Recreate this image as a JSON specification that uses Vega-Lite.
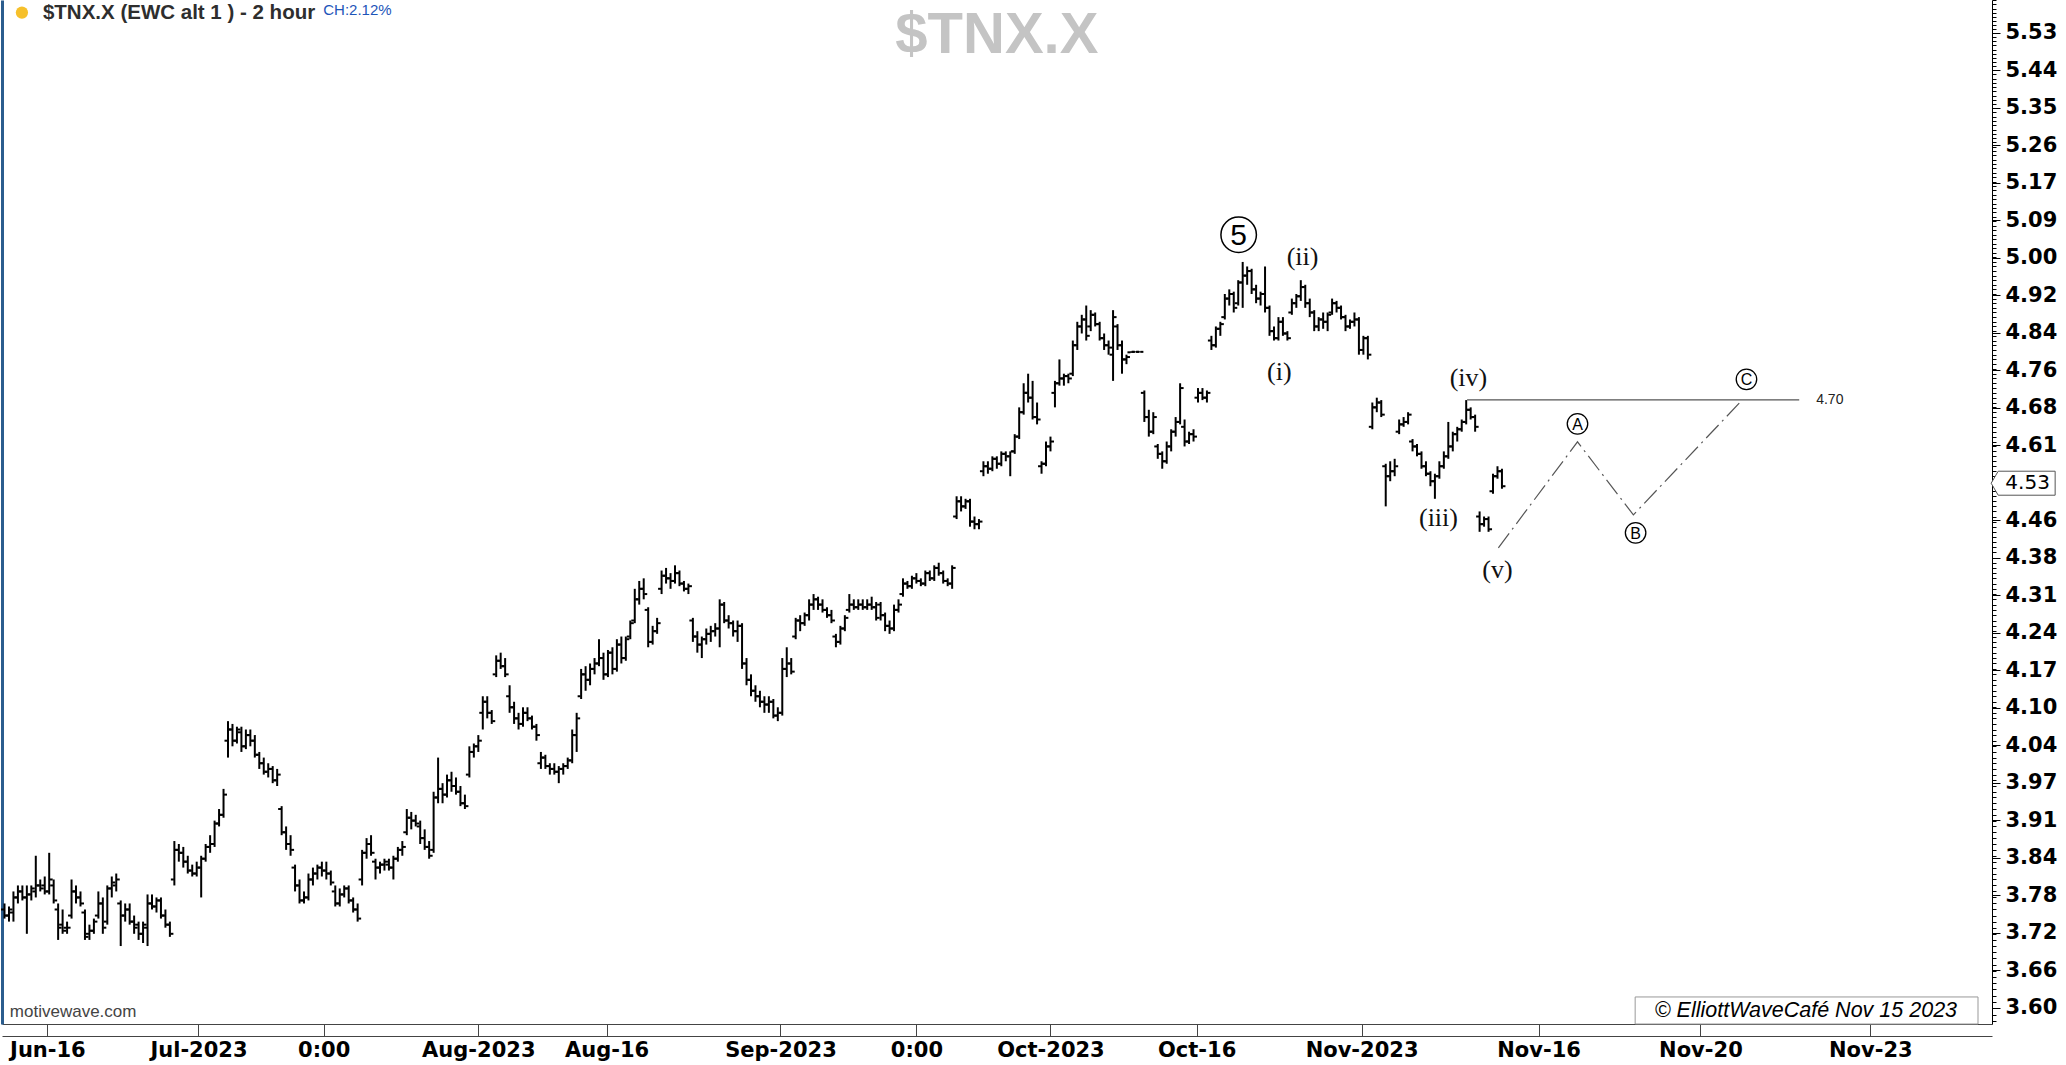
{
  "$schema": "https://vega.github.io/schema/vega-lite/v6.json",
  "width": 1990,
  "height": 1024,
  "autosize": {"type": "none"},
  "padding": {"left": 2, "top": 0, "right": 74, "bottom": 41},
  "background": "white",
  "config": {"view": {"stroke": null}, "axis": {"grid": false}},
  "datasets": {
    "bars": [
      {"i":0,"o":3.76,"h":3.77,"l":3.745,"c":3.75},{"i":1,"o":3.75,"h":3.765,"l":3.74,"c":3.76},{"i":2,"o":3.755,"h":3.79,"l":3.74,"c":3.78},{"i":3,"o":3.78,"h":3.8,"l":3.77,"c":3.79},{"i":4,"o":3.79,"h":3.8,"l":3.775,"c":3.78},{"i":5,"o":3.78,"h":3.8,"l":3.72,"c":3.785},{"i":6,"o":3.785,"h":3.8,"l":3.775,"c":3.795},{"i":7,"o":3.79,"h":3.85,"l":3.78,"c":3.8},{"i":8,"o":3.8,"h":3.81,"l":3.79,"c":3.795},{"i":9,"o":3.8,"h":3.815,"l":3.785,"c":3.79},
      {"i":10,"o":3.79,"h":3.855,"l":3.785,"c":3.81},{"i":11,"o":3.8,"h":3.81,"l":3.77,"c":3.775},{"i":12,"o":3.76,"h":3.77,"l":3.71,"c":3.73},{"i":13,"o":3.735,"h":3.76,"l":3.72,"c":3.725},{"i":14,"o":3.73,"h":3.74,"l":3.72,"c":3.73},{"i":15,"o":3.75,"h":3.81,"l":3.745,"c":3.79},{"i":16,"o":3.79,"h":3.8,"l":3.77,"c":3.78},{"i":17,"o":3.78,"h":3.79,"l":3.765,"c":3.77},{"i":18,"o":3.755,"h":3.76,"l":3.71,"c":3.715},{"i":19,"o":3.72,"h":3.735,"l":3.71,"c":3.725},
      {"i":20,"o":3.725,"h":3.745,"l":3.72,"c":3.74},{"i":21,"o":3.75,"h":3.79,"l":3.745,"c":3.77},{"i":22,"o":3.77,"h":3.78,"l":3.72,"c":3.73},{"i":23,"o":3.74,"h":3.8,"l":3.735,"c":3.795},{"i":24,"o":3.795,"h":3.815,"l":3.78,"c":3.805},{"i":25,"o":3.8,"h":3.82,"l":3.79,"c":3.81},{"i":26,"o":3.77,"h":3.775,"l":3.7,"c":3.75},{"i":27,"o":3.75,"h":3.77,"l":3.74,"c":3.76},{"i":28,"o":3.76,"h":3.77,"l":3.735,"c":3.74},{"i":29,"o":3.74,"h":3.75,"l":3.72,"c":3.73},
      {"i":30,"o":3.735,"h":3.74,"l":3.71,"c":3.72},{"i":31,"o":3.72,"h":3.74,"l":3.705,"c":3.735},{"i":32,"o":3.73,"h":3.785,"l":3.7,"c":3.77},{"i":33,"o":3.77,"h":3.785,"l":3.76,"c":3.765},{"i":34,"o":3.765,"h":3.78,"l":3.755,"c":3.775},{"i":35,"o":3.775,"h":3.78,"l":3.745,"c":3.75},{"i":36,"o":3.75,"h":3.76,"l":3.73,"c":3.735},{"i":37,"o":3.735,"h":3.74,"l":3.715,"c":3.72},{"i":38,"o":3.81,"h":3.875,"l":3.8,"c":3.86},{"i":39,"o":3.86,"h":3.87,"l":3.84,"c":3.855},
      {"i":40,"o":3.855,"h":3.865,"l":3.83,"c":3.84},{"i":41,"o":3.84,"h":3.85,"l":3.82,"c":3.825},{"i":42,"o":3.825,"h":3.835,"l":3.815,"c":3.82},{"i":43,"o":3.82,"h":3.84,"l":3.815,"c":3.83},{"i":44,"o":3.83,"h":3.85,"l":3.78,"c":3.845},{"i":45,"o":3.845,"h":3.87,"l":3.84,"c":3.865},{"i":46,"o":3.865,"h":3.885,"l":3.855,"c":3.87},{"i":47,"o":3.87,"h":3.91,"l":3.865,"c":3.905},{"i":48,"o":3.905,"h":3.93,"l":3.9,"c":3.92},{"i":49,"o":3.92,"h":3.965,"l":3.915,"c":3.955},
      {"i":50,"o":4.05,"h":4.085,"l":4.02,"c":4.07},{"i":51,"o":4.07,"h":4.08,"l":4.04,"c":4.05},{"i":52,"o":4.05,"h":4.075,"l":4.045,"c":4.07},{"i":53,"o":4.065,"h":4.075,"l":4.03,"c":4.04},{"i":54,"o":4.04,"h":4.07,"l":4.035,"c":4.06},{"i":55,"o":4.06,"h":4.07,"l":4.04,"c":4.05},{"i":56,"o":4.05,"h":4.06,"l":4.02,"c":4.025},{"i":57,"o":4.025,"h":4.03,"l":4.0,"c":4.01},{"i":58,"o":4.01,"h":4.02,"l":3.99,"c":3.995},{"i":59,"o":3.995,"h":4.01,"l":3.985,"c":4.0},
      {"i":60,"o":4.0,"h":4.005,"l":3.975,"c":3.98},{"i":61,"o":3.98,"h":4.0,"l":3.97,"c":3.99},{"i":62,"o":3.93,"h":3.935,"l":3.885,"c":3.89},{"i":63,"o":3.89,"h":3.9,"l":3.86,"c":3.87},{"i":64,"o":3.87,"h":3.885,"l":3.85,"c":3.86},{"i":65,"o":3.83,"h":3.835,"l":3.79,"c":3.8},{"i":66,"o":3.8,"h":3.81,"l":3.77,"c":3.775},{"i":67,"o":3.775,"h":3.79,"l":3.77,"c":3.78},{"i":68,"o":3.78,"h":3.82,"l":3.775,"c":3.81},{"i":69,"o":3.81,"h":3.83,"l":3.8,"c":3.82},
      {"i":70,"o":3.82,"h":3.835,"l":3.81,"c":3.83},{"i":71,"o":3.83,"h":3.84,"l":3.815,"c":3.825},{"i":72,"o":3.825,"h":3.84,"l":3.81,"c":3.82},{"i":73,"o":3.82,"h":3.825,"l":3.8,"c":3.805},{"i":74,"o":3.79,"h":3.8,"l":3.765,"c":3.77},{"i":75,"o":3.77,"h":3.795,"l":3.765,"c":3.785},{"i":76,"o":3.785,"h":3.8,"l":3.78,"c":3.795},{"i":77,"o":3.795,"h":3.8,"l":3.77,"c":3.775},{"i":78,"o":3.775,"h":3.78,"l":3.755,"c":3.76},{"i":79,"o":3.76,"h":3.77,"l":3.74,"c":3.745},
      {"i":80,"o":3.81,"h":3.86,"l":3.8,"c":3.855},{"i":81,"o":3.855,"h":3.88,"l":3.845,"c":3.87},{"i":82,"o":3.87,"h":3.885,"l":3.85,"c":3.855},{"i":83,"o":3.84,"h":3.845,"l":3.81,"c":3.83},{"i":84,"o":3.83,"h":3.84,"l":3.82,"c":3.835},{"i":85,"o":3.835,"h":3.845,"l":3.825,"c":3.84},{"i":86,"o":3.835,"h":3.845,"l":3.825,"c":3.83},{"i":87,"o":3.83,"h":3.85,"l":3.81,"c":3.845},{"i":88,"o":3.845,"h":3.865,"l":3.84,"c":3.86},{"i":89,"o":3.86,"h":3.875,"l":3.85,"c":3.865},
      {"i":90,"o":3.89,"h":3.93,"l":3.885,"c":3.915},{"i":91,"o":3.915,"h":3.925,"l":3.895,"c":3.91},{"i":92,"o":3.91,"h":3.92,"l":3.9,"c":3.905},{"i":93,"o":3.9,"h":3.91,"l":3.87,"c":3.88},{"i":94,"o":3.88,"h":3.895,"l":3.86,"c":3.865},{"i":95,"o":3.865,"h":3.875,"l":3.845,"c":3.85},{"i":96,"o":3.86,"h":3.96,"l":3.855,"c":3.95},{"i":97,"o":3.95,"h":4.02,"l":3.94,"c":3.965},{"i":98,"o":3.965,"h":3.975,"l":3.94,"c":3.955},{"i":99,"o":3.955,"h":3.99,"l":3.95,"c":3.98},
      {"i":100,"o":3.98,"h":3.995,"l":3.96,"c":3.97},{"i":101,"o":3.97,"h":3.985,"l":3.955,"c":3.96},{"i":102,"o":3.96,"h":3.97,"l":3.935,"c":3.94},{"i":103,"o":3.94,"h":3.955,"l":3.93,"c":3.935},{"i":104,"o":3.99,"h":4.04,"l":3.985,"c":4.03},{"i":105,"o":4.03,"h":4.045,"l":4.02,"c":4.04},{"i":106,"o":4.04,"h":4.06,"l":4.03,"c":4.05},{"i":107,"o":4.1,"h":4.13,"l":4.07,"c":4.12},{"i":108,"o":4.12,"h":4.13,"l":4.09,"c":4.1},{"i":109,"o":4.1,"h":4.105,"l":4.08,"c":4.085},
      {"i":110,"o":4.17,"h":4.205,"l":4.165,"c":4.195},{"i":111,"o":4.195,"h":4.21,"l":4.18,"c":4.185},{"i":112,"o":4.185,"h":4.2,"l":4.165,"c":4.17},{"i":113,"o":4.13,"h":4.15,"l":4.1,"c":4.11},{"i":114,"o":4.11,"h":4.12,"l":4.08,"c":4.09},{"i":115,"o":4.09,"h":4.1,"l":4.07,"c":4.08},{"i":116,"o":4.08,"h":4.11,"l":4.075,"c":4.1},{"i":117,"o":4.1,"h":4.11,"l":4.085,"c":4.09},{"i":118,"o":4.09,"h":4.095,"l":4.07,"c":4.075},{"i":119,"o":4.075,"h":4.08,"l":4.05,"c":4.06},
      {"i":120,"o":4.01,"h":4.03,"l":4.0,"c":4.02},{"i":121,"o":4.02,"h":4.025,"l":4.0,"c":4.005},{"i":122,"o":4.005,"h":4.01,"l":3.99,"c":4.0},{"i":123,"o":4.0,"h":4.01,"l":3.99,"c":3.995},{"i":124,"o":3.995,"h":4.005,"l":3.975,"c":4.0},{"i":125,"o":4.0,"h":4.01,"l":3.99,"c":4.005},{"i":126,"o":4.005,"h":4.02,"l":4.0,"c":4.015},{"i":127,"o":4.015,"h":4.07,"l":4.01,"c":4.06},{"i":128,"o":4.06,"h":4.1,"l":4.03,"c":4.09},{"i":129,"o":4.13,"h":4.18,"l":4.125,"c":4.17},
      {"i":130,"o":4.17,"h":4.185,"l":4.14,"c":4.16},{"i":131,"o":4.16,"h":4.19,"l":4.15,"c":4.18},{"i":132,"o":4.18,"h":4.2,"l":4.17,"c":4.19},{"i":133,"o":4.19,"h":4.235,"l":4.185,"c":4.2},{"i":134,"o":4.2,"h":4.21,"l":4.16,"c":4.17},{"i":135,"o":4.17,"h":4.215,"l":4.165,"c":4.21},{"i":136,"o":4.21,"h":4.22,"l":4.17,"c":4.18},{"i":137,"o":4.18,"h":4.235,"l":4.175,"c":4.225},{"i":138,"o":4.225,"h":4.24,"l":4.19,"c":4.2},{"i":139,"o":4.2,"h":4.24,"l":4.195,"c":4.235},
      {"i":140,"o":4.24,"h":4.27,"l":4.235,"c":4.265},{"i":141,"o":4.27,"h":4.33,"l":4.265,"c":4.31},{"i":142,"o":4.31,"h":4.345,"l":4.3,"c":4.33},{"i":143,"o":4.33,"h":4.35,"l":4.31,"c":4.32},{"i":144,"o":4.29,"h":4.295,"l":4.22,"c":4.23},{"i":145,"o":4.23,"h":4.26,"l":4.225,"c":4.25},{"i":146,"o":4.25,"h":4.275,"l":4.245,"c":4.265},{"i":147,"o":4.33,"h":4.365,"l":4.32,"c":4.355},{"i":148,"o":4.355,"h":4.37,"l":4.34,"c":4.35},{"i":149,"o":4.35,"h":4.36,"l":4.33,"c":4.345},
      {"i":150,"o":4.345,"h":4.375,"l":4.34,"c":4.36},{"i":151,"o":4.36,"h":4.365,"l":4.335,"c":4.34},{"i":152,"o":4.34,"h":4.345,"l":4.325,"c":4.33},{"i":153,"o":4.33,"h":4.34,"l":4.32,"c":4.335},{"i":154,"o":4.27,"h":4.275,"l":4.23,"c":4.24},{"i":155,"o":4.24,"h":4.25,"l":4.21,"c":4.225},{"i":156,"o":4.225,"h":4.24,"l":4.2,"c":4.235},{"i":157,"o":4.235,"h":4.255,"l":4.225,"c":4.245},{"i":158,"o":4.245,"h":4.26,"l":4.23,"c":4.25},{"i":159,"o":4.25,"h":4.265,"l":4.24,"c":4.255},
      {"i":160,"o":4.255,"h":4.31,"l":4.22,"c":4.3},{"i":161,"o":4.3,"h":4.305,"l":4.265,"c":4.27},{"i":162,"o":4.27,"h":4.28,"l":4.255,"c":4.265},{"i":163,"o":4.265,"h":4.27,"l":4.24,"c":4.25},{"i":164,"o":4.25,"h":4.27,"l":4.23,"c":4.26},{"i":165,"o":4.26,"h":4.265,"l":4.18,"c":4.19},{"i":166,"o":4.19,"h":4.2,"l":4.15,"c":4.16},{"i":167,"o":4.16,"h":4.17,"l":4.13,"c":4.14},{"i":168,"o":4.14,"h":4.15,"l":4.12,"c":4.13},{"i":169,"o":4.13,"h":4.14,"l":4.11,"c":4.12},
      {"i":170,"o":4.12,"h":4.13,"l":4.1,"c":4.115},{"i":171,"o":4.115,"h":4.13,"l":4.1,"c":4.12},{"i":172,"o":4.12,"h":4.125,"l":4.09,"c":4.095},{"i":173,"o":4.095,"h":4.11,"l":4.085,"c":4.1},{"i":174,"o":4.1,"h":4.2,"l":4.095,"c":4.18},{"i":175,"o":4.18,"h":4.22,"l":4.165,"c":4.19},{"i":176,"o":4.19,"h":4.2,"l":4.17,"c":4.175},{"i":177,"o":4.24,"h":4.275,"l":4.235,"c":4.27},{"i":178,"o":4.27,"h":4.28,"l":4.25,"c":4.265},{"i":179,"o":4.265,"h":4.285,"l":4.26,"c":4.28},
      {"i":180,"o":4.28,"h":4.31,"l":4.27,"c":4.3},{"i":181,"o":4.3,"h":4.32,"l":4.29,"c":4.31},{"i":182,"o":4.31,"h":4.315,"l":4.29,"c":4.3},{"i":183,"o":4.3,"h":4.31,"l":4.285,"c":4.29},{"i":184,"o":4.29,"h":4.295,"l":4.275,"c":4.28},{"i":185,"o":4.28,"h":4.29,"l":4.265,"c":4.27},{"i":186,"o":4.24,"h":4.245,"l":4.22,"c":4.23},{"i":187,"o":4.23,"h":4.26,"l":4.225,"c":4.255},{"i":188,"o":4.255,"h":4.28,"l":4.25,"c":4.275},{"i":189,"o":4.29,"h":4.32,"l":4.285,"c":4.3},
      {"i":190,"o":4.3,"h":4.31,"l":4.29,"c":4.295},{"i":191,"o":4.295,"h":4.31,"l":4.29,"c":4.3},{"i":192,"o":4.3,"h":4.31,"l":4.29,"c":4.295},{"i":193,"o":4.295,"h":4.31,"l":4.29,"c":4.3},{"i":194,"o":4.3,"h":4.315,"l":4.29,"c":4.295},{"i":195,"o":4.295,"h":4.305,"l":4.27,"c":4.275},{"i":196,"o":4.3,"h":4.305,"l":4.27,"c":4.28},{"i":197,"o":4.28,"h":4.285,"l":4.25,"c":4.26},{"i":198,"o":4.26,"h":4.27,"l":4.245,"c":4.255},{"i":199,"o":4.255,"h":4.3,"l":4.25,"c":4.29},
      {"i":200,"o":4.29,"h":4.31,"l":4.285,"c":4.3},{"i":201,"o":4.32,"h":4.35,"l":4.315,"c":4.34},{"i":202,"o":4.34,"h":4.345,"l":4.33,"c":4.335},{"i":203,"o":4.335,"h":4.355,"l":4.33,"c":4.35},{"i":204,"o":4.35,"h":4.36,"l":4.34,"c":4.345},{"i":205,"o":4.345,"h":4.35,"l":4.335,"c":4.34},{"i":206,"o":4.34,"h":4.365,"l":4.335,"c":4.36},{"i":207,"o":4.36,"h":4.365,"l":4.345,"c":4.35},{"i":208,"o":4.35,"h":4.375,"l":4.345,"c":4.37},{"i":209,"o":4.37,"h":4.38,"l":4.355,"c":4.36},
      {"i":210,"o":4.36,"h":4.365,"l":4.34,"c":4.345},{"i":211,"o":4.345,"h":4.35,"l":4.335,"c":4.34},{"i":212,"o":4.34,"h":4.375,"l":4.33,"c":4.37},{"i":213,"o":4.47,"h":4.51,"l":4.465,"c":4.5},{"i":214,"o":4.5,"h":4.51,"l":4.48,"c":4.49},{"i":215,"o":4.49,"h":4.505,"l":4.485,"c":4.5},{"i":216,"o":4.5,"h":4.505,"l":4.45,"c":4.46},{"i":217,"o":4.46,"h":4.47,"l":4.445,"c":4.455},{"i":218,"o":4.455,"h":4.465,"l":4.445,"c":4.46},{"i":219,"o":4.56,"h":4.58,"l":4.55,"c":4.57},
      {"i":220,"o":4.57,"h":4.58,"l":4.555,"c":4.565},{"i":221,"o":4.565,"h":4.59,"l":4.56,"c":4.585},{"i":222,"o":4.585,"h":4.59,"l":4.565,"c":4.575},{"i":223,"o":4.575,"h":4.6,"l":4.57,"c":4.595},{"i":224,"o":4.595,"h":4.6,"l":4.58,"c":4.59},{"i":225,"o":4.59,"h":4.6,"l":4.55,"c":4.6},{"i":226,"o":4.6,"h":4.635,"l":4.595,"c":4.63},{"i":227,"o":4.63,"h":4.69,"l":4.625,"c":4.68},{"i":228,"o":4.68,"h":4.74,"l":4.675,"c":4.72},{"i":229,"o":4.72,"h":4.76,"l":4.7,"c":4.71},
      {"i":230,"o":4.71,"h":4.745,"l":4.665,"c":4.67},{"i":231,"o":4.67,"h":4.7,"l":4.655,"c":4.665},{"i":232,"o":4.57,"h":4.58,"l":4.555,"c":4.575},{"i":233,"o":4.575,"h":4.62,"l":4.57,"c":4.61},{"i":234,"o":4.61,"h":4.63,"l":4.6,"c":4.62},{"i":235,"o":4.72,"h":4.745,"l":4.69,"c":4.74},{"i":236,"o":4.74,"h":4.79,"l":4.735,"c":4.75},{"i":237,"o":4.75,"h":4.76,"l":4.735,"c":4.755},{"i":238,"o":4.755,"h":4.76,"l":4.74,"c":4.75},{"i":239,"o":4.76,"h":4.83,"l":4.755,"c":4.82},
      {"i":240,"o":4.82,"h":4.87,"l":4.81,"c":4.86},{"i":241,"o":4.86,"h":4.885,"l":4.845,"c":4.875},{"i":242,"o":4.875,"h":4.905,"l":4.83,"c":4.84},{"i":243,"o":4.86,"h":4.895,"l":4.85,"c":4.885},{"i":244,"o":4.885,"h":4.89,"l":4.86,"c":4.865},{"i":245,"o":4.865,"h":4.87,"l":4.83,"c":4.835},{"i":246,"o":4.835,"h":4.845,"l":4.81,"c":4.82},{"i":247,"o":4.82,"h":4.83,"l":4.8,"c":4.815},{"i":248,"o":4.8,"h":4.895,"l":4.745,"c":4.88},{"i":249,"o":4.86,"h":4.865,"l":4.81,"c":4.82},
      {"i":250,"o":4.82,"h":4.83,"l":4.76,"c":4.79},{"i":251,"o":4.79,"h":4.8,"l":4.78,"c":4.795},{"i":252,"o":4.805,"h":4.807,"l":4.804,"c":4.806},{"i":253,"o":4.806,"h":4.807,"l":4.805,"c":4.806},{"i":254,"o":4.806,"h":4.807,"l":4.805,"c":4.806},{"i":255,"o":4.72,"h":4.725,"l":4.66,"c":4.67},{"i":256,"o":4.67,"h":4.685,"l":4.63,"c":4.64},{"i":257,"o":4.64,"h":4.68,"l":4.635,"c":4.67},{"i":258,"o":4.61,"h":4.615,"l":4.585,"c":4.595},{"i":259,"o":4.595,"h":4.6,"l":4.565,"c":4.58},
      {"i":260,"o":4.58,"h":4.62,"l":4.575,"c":4.61},{"i":261,"o":4.61,"h":4.645,"l":4.6,"c":4.64},{"i":262,"o":4.64,"h":4.67,"l":4.63,"c":4.66},{"i":263,"o":4.66,"h":4.74,"l":4.655,"c":4.73},{"i":264,"o":4.65,"h":4.665,"l":4.61,"c":4.62},{"i":265,"o":4.62,"h":4.64,"l":4.615,"c":4.635},{"i":266,"o":4.635,"h":4.645,"l":4.62,"c":4.63},{"i":267,"o":4.71,"h":4.73,"l":4.7,"c":4.72},{"i":268,"o":4.72,"h":4.73,"l":4.705,"c":4.71},{"i":269,"o":4.71,"h":4.725,"l":4.7,"c":4.72},
      {"i":270,"o":4.83,"h":4.84,"l":4.81,"c":4.82},{"i":271,"o":4.82,"h":4.86,"l":4.815,"c":4.855},{"i":272,"o":4.855,"h":4.87,"l":4.84,"c":4.865},{"i":273,"o":4.88,"h":4.93,"l":4.875,"c":4.92},{"i":274,"o":4.92,"h":4.94,"l":4.905,"c":4.93},{"i":275,"o":4.93,"h":4.935,"l":4.89,"c":4.9},{"i":276,"o":4.91,"h":4.96,"l":4.905,"c":4.955},{"i":277,"o":4.955,"h":5.0,"l":4.9,"c":4.97},{"i":278,"o":4.97,"h":4.99,"l":4.95,"c":4.98},{"i":279,"o":4.98,"h":4.985,"l":4.93,"c":4.94},
      {"i":280,"o":4.94,"h":4.95,"l":4.91,"c":4.92},{"i":281,"o":4.92,"h":4.935,"l":4.905,"c":4.93},{"i":282,"o":4.93,"h":4.99,"l":4.89,"c":4.9},{"i":283,"o":4.9,"h":4.905,"l":4.84,"c":4.85},{"i":284,"o":4.85,"h":4.86,"l":4.83,"c":4.835},{"i":285,"o":4.835,"h":4.88,"l":4.83,"c":4.87},{"i":286,"o":4.87,"h":4.88,"l":4.84,"c":4.845},{"i":287,"o":4.845,"h":4.85,"l":4.83,"c":4.835},{"i":288,"o":4.89,"h":4.92,"l":4.885,"c":4.91},{"i":289,"o":4.91,"h":4.93,"l":4.9,"c":4.925},
      {"i":290,"o":4.925,"h":4.96,"l":4.915,"c":4.945},{"i":291,"o":4.945,"h":4.95,"l":4.9,"c":4.91},{"i":292,"o":4.91,"h":4.92,"l":4.88,"c":4.89},{"i":293,"o":4.89,"h":4.895,"l":4.85,"c":4.86},{"i":294,"o":4.86,"h":4.88,"l":4.85,"c":4.875},{"i":295,"o":4.875,"h":4.89,"l":4.855,"c":4.87},{"i":296,"o":4.87,"h":4.89,"l":4.85,"c":4.885},{"i":297,"o":4.89,"h":4.92,"l":4.885,"c":4.91},{"i":298,"o":4.91,"h":4.915,"l":4.89,"c":4.9},{"i":299,"o":4.9,"h":4.905,"l":4.875,"c":4.88},
      {"i":300,"o":4.88,"h":4.885,"l":4.85,"c":4.86},{"i":301,"o":4.86,"h":4.875,"l":4.855,"c":4.87},{"i":302,"o":4.87,"h":4.89,"l":4.86,"c":4.875},{"i":303,"o":4.875,"h":4.88,"l":4.8,"c":4.81},{"i":304,"o":4.81,"h":4.84,"l":4.8,"c":4.835},{"i":305,"o":4.835,"h":4.84,"l":4.79,"c":4.8},{"i":306,"o":4.65,"h":4.7,"l":4.645,"c":4.69},{"i":307,"o":4.69,"h":4.71,"l":4.68,"c":4.7},{"i":308,"o":4.7,"h":4.705,"l":4.67,"c":4.675},{"i":309,"o":4.57,"h":4.575,"l":4.49,"c":4.55},
      {"i":310,"o":4.55,"h":4.58,"l":4.54,"c":4.56},{"i":311,"o":4.56,"h":4.585,"l":4.55,"c":4.57},{"i":312,"o":4.64,"h":4.665,"l":4.635,"c":4.655},{"i":313,"o":4.655,"h":4.67,"l":4.65,"c":4.66},{"i":314,"o":4.66,"h":4.68,"l":4.655,"c":4.675},{"i":315,"o":4.62,"h":4.625,"l":4.6,"c":4.61},{"i":316,"o":4.61,"h":4.615,"l":4.59,"c":4.595},{"i":317,"o":4.595,"h":4.6,"l":4.565,"c":4.57},{"i":318,"o":4.57,"h":4.58,"l":4.55,"c":4.555},{"i":319,"o":4.555,"h":4.56,"l":4.53,"c":4.54},
      {"i":320,"o":4.54,"h":4.555,"l":4.505,"c":4.55},{"i":321,"o":4.55,"h":4.58,"l":4.545,"c":4.57},{"i":322,"o":4.57,"h":4.6,"l":4.565,"c":4.59},{"i":323,"o":4.59,"h":4.66,"l":4.585,"c":4.61},{"i":324,"o":4.61,"h":4.64,"l":4.6,"c":4.635},{"i":325,"o":4.635,"h":4.65,"l":4.62,"c":4.645},{"i":326,"o":4.645,"h":4.665,"l":4.64,"c":4.66},{"i":327,"o":4.66,"h":4.705,"l":4.655,"c":4.685},{"i":328,"o":4.685,"h":4.69,"l":4.665,"c":4.67},{"i":329,"o":4.67,"h":4.675,"l":4.64,"c":4.65},
      {"i":330,"o":4.47,"h":4.48,"l":4.44,"c":4.455},{"i":331,"o":4.455,"h":4.47,"l":4.45,"c":4.465},{"i":332,"o":4.465,"h":4.47,"l":4.44,"c":4.445},{"i":333,"o":4.52,"h":4.555,"l":4.515,"c":4.55},{"i":334,"o":4.55,"h":4.57,"l":4.545,"c":4.56},{"i":335,"o":4.56,"h":4.565,"l":4.525,"c":4.53}
    ],
    "waves": [
      {"i":290.4,"v":5.0113,"t":"(ii)"},{"i":285.2,"v":4.764,"t":"(i)"},{"i":327.5,"v":4.7514,"t":"(iv)"},{"i":320.8,"v":4.4673,"t":"(iii)"},{"i":334.0,"v":4.3662,"t":"(v)"}
    ],
    "circ5": [{"i":276.1,"v":5.0601,"t":"5"}],
    "abc": [{"i":351.9,"v":4.6561,"t":"A"},{"i":364.9,"v":4.438,"t":"B"},{"i":389.7,"v":4.7482,"t":"C"}],
    "proj": [{"i":334.2,"v":4.4088,"k":1},{"i":351.9,"v":4.6193,"k":2},{"i":364.4,"v":4.4733,"k":3},{"i":388.8,"v":4.7056,"k":4}],
    "hline": [{"i":327.2,"i2":401.5,"v":4.7056,"ti":405.3,"t":"4.70"}],
    "hdr": [{"i":8.6,"v":5.579,"t":"$TNX.X (EWC alt 1 ) - 2 hour"}],
    "ch": [{"i":71.3,"v":5.5864,"t":"CH:2.12%"}],
    "dot": [{"i":3.9,"v":5.58}],
    "wm": [{"i":222.0,"v":5.5234,"t":"$TNX.X"}],
    "tag": [{"i":451.6,"ti":452.6,"v":4.536,"t":"4.53"}],
    "copy": [{"i1":364.8,"i2":441.5,"v1":3.5752,"v2":3.618,"i":403.0,"v":3.5958,"t":"© ElliottWaveCafé Nov 15 2023"}],
    "mw": [{"i":1.2,"v":3.5942,"t":"motivewave.com"}]
  },
  "layer": [
    {
      "data": {"name": "bars"},
      "mark": {"type": "rule", "color": "#000", "strokeWidth": 2},
      "encoding": {
        "x": {"field": "i", "type": "quantitative", "scale": {"domain": [-0.559, 444.63], "nice": false, "zero": false},
          "axis": {"orient": "bottom", "title": null, "grid": false,
            "values": [9.6, 43.4, 71.4, 106, 134.7, 173.6, 204, 234, 266.7, 303.6, 343.2, 379.4, 417.4],
            "labelExpr": "datum.value < 30 ? 'Jun-16' : datum.value < 60 ? 'Jul-2023' : datum.value < 90 ? '0:00' : datum.value < 120 ? 'Aug-2023' : datum.value < 160 ? 'Aug-16' : datum.value < 190 ? 'Sep-2023' : datum.value < 220 ? '0:00' : datum.value < 250 ? 'Oct-2023' : datum.value < 285 ? 'Oct-16' : datum.value < 320 ? 'Nov-2023' : datum.value < 360 ? 'Nov-16' : datum.value < 400 ? 'Nov-20' : 'Nov-23'",
            "domainColor": "#444", "tickColor": "#444", "tickSize": 12, "labelPadding": 3,
            "labelFont": "DejaVu Sans", "labelFontWeight": "bold", "labelFontSize": 21, "labelColor": "#000",
            "labelFlush": false, "labelOverlap": false, "labelBound": false}},
        "y": {"field": "l", "type": "quantitative", "scale": {"type": "log", "domain": [3.5752, 5.611], "nice": false},
          "axis": {"orient": "right", "title": null, "grid": false,
            "values": [3.6005, 3.6604, 3.7214, 3.7833, 3.8463, 3.9103, 3.9754, 4.0416, 4.1089, 4.1773, 4.2469, 4.3175, 4.3894, 4.4625, 4.6122, 4.689, 4.767, 4.8464, 4.9271, 5.0091, 5.0925, 5.1772, 5.2634, 5.351, 5.4401, 5.5306],
            "labelExpr": "format(floor(datum.value*100+0.0001)/100, '.2f')",
            "domainColor": "#000", "tickColor": "#000", "tickSize": 8, "labelPadding": 5,
            "labelFont": "DejaVu Sans", "labelFontWeight": "bold", "labelFontSize": 21, "labelColor": "#000",
            "labelOverlap": false, "labelFlush": false}},
        "y2": {"field": "h"}
      }
    },
    {
      "data": {"name": "bars"},
      "mark": {"type": "tick", "orient": "horizontal", "size": 3, "thickness": 2, "xOffset": -2, "color": "#000", "opacity": 1},
      "encoding": {
        "x": {"field": "i", "type": "quantitative", "scale": {"domain": [-0.559, 444.63], "nice": false, "zero": false},
          "axis": {"orient": "bottom", "offset": 12, "title": null, "domain": true, "domainColor": "#444", "ticks": false, "labels": false, "grid": false}},
        "y": {"field": "o", "type": "quantitative", "scale": {"type": "log", "domain": [3.5752, 5.611], "nice": false},
          "axis": {"orient": "right", "title": null, "labels": false, "domain": false, "tickCount": 200, "tickSize": 4, "tickColor": "#000", "grid": false}}
      }
    },
    {
      "data": {"name": "bars"},
      "mark": {"type": "tick", "orient": "horizontal", "size": 3, "thickness": 2, "xOffset": 2, "color": "#000", "opacity": 1},
      "encoding": {
        "x": {"field": "i", "type": "quantitative", "scale": {"domain": [-0.559, 444.63], "nice": false, "zero": false}, "axis": null},
        "y": {"field": "c", "type": "quantitative", "scale": {"type": "log", "domain": [3.5752, 5.611], "nice": false},
          "axis": {"orient": "left", "title": null, "labels": false, "ticks": false, "domain": true, "domainColor": "#2b5d8e", "domainWidth": 3, "grid": false}}
      }
    },
    {
      "data": {"name": "proj"},
      "mark": {"type": "line", "color": "#555", "strokeWidth": 1.2, "strokeDash": [18, 5, 2, 5]},
      "encoding": {
        "x": {"field": "i", "type": "quantitative", "scale": {"domain": [-0.559, 444.63], "nice": false, "zero": false}, "axis": null},
        "y": {"field": "v", "type": "quantitative", "scale": {"type": "log", "domain": [3.5752, 5.611], "nice": false}, "axis": null},
        "order": {"field": "k"}
      }
    },
    {
      "data": {"name": "hline"},
      "mark": {"type": "rule", "color": "#555", "strokeWidth": 1.2},
      "encoding": {
        "x": {"field": "i", "type": "quantitative", "scale": {"domain": [-0.559, 444.63], "nice": false, "zero": false}, "axis": null},
        "x2": {"field": "i2"},
        "y": {"field": "v", "type": "quantitative", "scale": {"type": "log", "domain": [3.5752, 5.611], "nice": false}, "axis": null}
      }
    },
    {
      "data": {"name": "hline"},
      "mark": {"type": "text", "font": "Liberation Sans", "fontSize": 14, "color": "#222", "align": "left", "baseline": "middle"},
      "encoding": {
        "x": {"field": "ti", "type": "quantitative", "scale": {"domain": [-0.559, 444.63], "nice": false, "zero": false}, "axis": null},
        "y": {"field": "v", "type": "quantitative", "scale": {"type": "log", "domain": [3.5752, 5.611], "nice": false}, "axis": null},
        "text": {"field": "t"}
      }
    },
    {
      "data": {"name": "waves"},
      "mark": {"type": "text", "font": "Liberation Serif", "fontSize": 26, "color": "#111", "align": "center", "baseline": "middle"},
      "encoding": {
        "x": {"field": "i", "type": "quantitative", "scale": {"domain": [-0.559, 444.63], "nice": false, "zero": false}, "axis": null},
        "y": {"field": "v", "type": "quantitative", "scale": {"type": "log", "domain": [3.5752, 5.611], "nice": false}, "axis": null},
        "text": {"field": "t"}
      }
    },
    {
      "data": {"name": "circ5"},
      "mark": {"type": "point", "shape": "circle", "filled": false, "size": 1260, "stroke": "#000", "strokeWidth": 1.5, "opacity": 1},
      "encoding": {
        "x": {"field": "i", "type": "quantitative", "scale": {"domain": [-0.559, 444.63], "nice": false, "zero": false}, "axis": null},
        "y": {"field": "v", "type": "quantitative", "scale": {"type": "log", "domain": [3.5752, 5.611], "nice": false}, "axis": null}
      }
    },
    {
      "data": {"name": "circ5"},
      "mark": {"type": "text", "font": "Liberation Sans", "fontSize": 30, "color": "#000", "align": "center", "baseline": "middle", "dy": 1},
      "encoding": {
        "x": {"field": "i", "type": "quantitative", "scale": {"domain": [-0.559, 444.63], "nice": false, "zero": false}, "axis": null},
        "y": {"field": "v", "type": "quantitative", "scale": {"type": "log", "domain": [3.5752, 5.611], "nice": false}, "axis": null},
        "text": {"field": "t"}
      }
    },
    {
      "data": {"name": "abc"},
      "mark": {"type": "point", "shape": "circle", "filled": false, "size": 420, "stroke": "#000", "strokeWidth": 1.3, "opacity": 1},
      "encoding": {
        "x": {"field": "i", "type": "quantitative", "scale": {"domain": [-0.559, 444.63], "nice": false, "zero": false}, "axis": null},
        "y": {"field": "v", "type": "quantitative", "scale": {"type": "log", "domain": [3.5752, 5.611], "nice": false}, "axis": null}
      }
    },
    {
      "data": {"name": "abc"},
      "mark": {"type": "text", "font": "Liberation Sans", "fontSize": 16, "color": "#000", "align": "center", "baseline": "middle", "dy": 1},
      "encoding": {
        "x": {"field": "i", "type": "quantitative", "scale": {"domain": [-0.559, 444.63], "nice": false, "zero": false}, "axis": null},
        "y": {"field": "v", "type": "quantitative", "scale": {"type": "log", "domain": [3.5752, 5.611], "nice": false}, "axis": null},
        "text": {"field": "t"}
      }
    },
    {
      "data": {"name": "wm"},
      "mark": {"type": "text", "font": "Liberation Sans", "fontSize": 58, "fontWeight": "bold", "color": "#c4c4c4", "align": "center", "baseline": "middle"},
      "encoding": {
        "x": {"field": "i", "type": "quantitative", "scale": {"domain": [-0.559, 444.63], "nice": false, "zero": false}, "axis": null},
        "y": {"field": "v", "type": "quantitative", "scale": {"type": "log", "domain": [3.5752, 5.611], "nice": false}, "axis": null},
        "text": {"field": "t"}
      }
    },
    {
      "data": {"name": "dot"},
      "mark": {"type": "point", "shape": "circle", "filled": true, "size": 150, "color": "#f6c02b", "opacity": 1},
      "encoding": {
        "x": {"field": "i", "type": "quantitative", "scale": {"domain": [-0.559, 444.63], "nice": false, "zero": false}, "axis": null},
        "y": {"field": "v", "type": "quantitative", "scale": {"type": "log", "domain": [3.5752, 5.611], "nice": false}, "axis": null}
      }
    },
    {
      "data": {"name": "hdr"},
      "mark": {"type": "text", "font": "Liberation Sans", "fontSize": 20.5, "fontWeight": "bold", "color": "#2e2e2e", "align": "left", "baseline": "middle"},
      "encoding": {
        "x": {"field": "i", "type": "quantitative", "scale": {"domain": [-0.559, 444.63], "nice": false, "zero": false}, "axis": null},
        "y": {"field": "v", "type": "quantitative", "scale": {"type": "log", "domain": [3.5752, 5.611], "nice": false}, "axis": null},
        "text": {"field": "t"}
      }
    },
    {
      "data": {"name": "ch"},
      "mark": {"type": "text", "font": "Liberation Sans", "fontSize": 15, "color": "#1d55b9", "align": "left", "baseline": "middle"},
      "encoding": {
        "x": {"field": "i", "type": "quantitative", "scale": {"domain": [-0.559, 444.63], "nice": false, "zero": false}, "axis": null},
        "y": {"field": "v", "type": "quantitative", "scale": {"type": "log", "domain": [3.5752, 5.611], "nice": false}, "axis": null},
        "text": {"field": "t"}
      }
    },
    {
      "data": {"name": "tag"},
      "mark": {"type": "point", "shape": "M -1 0 L -0.78 -0.375 L 1 -0.375 L 1 0.375 L -0.78 0.375 Z", "filled": true, "size": 4096, "fill": "#fff", "stroke": "#555", "strokeWidth": 1, "opacity": 1},
      "encoding": {
        "x": {"field": "i", "type": "quantitative", "scale": {"domain": [-0.559, 444.63], "nice": false, "zero": false}, "axis": null},
        "y": {"field": "v", "type": "quantitative", "scale": {"type": "log", "domain": [3.5752, 5.611], "nice": false}, "axis": null}
      }
    },
    {
      "data": {"name": "tag"},
      "mark": {"type": "text", "font": "DejaVu Sans", "fontSize": 20, "color": "#000", "align": "center", "baseline": "middle"},
      "encoding": {
        "x": {"field": "ti", "type": "quantitative", "scale": {"domain": [-0.559, 444.63], "nice": false, "zero": false}, "axis": null},
        "y": {"field": "v", "type": "quantitative", "scale": {"type": "log", "domain": [3.5752, 5.611], "nice": false}, "axis": null},
        "text": {"field": "t"}
      }
    },
    {
      "data": {"name": "copy"},
      "mark": {"type": "rect", "fill": "#fff", "stroke": "#999", "strokeWidth": 1},
      "encoding": {
        "x": {"field": "i1", "type": "quantitative", "scale": {"domain": [-0.559, 444.63], "nice": false, "zero": false}, "axis": null},
        "x2": {"field": "i2"},
        "y": {"field": "v1", "type": "quantitative", "scale": {"type": "log", "domain": [3.5752, 5.611], "nice": false}, "axis": null},
        "y2": {"field": "v2"}
      }
    },
    {
      "data": {"name": "copy"},
      "mark": {"type": "text", "font": "Liberation Sans", "fontSize": 21.5, "fontStyle": "italic", "color": "#000", "align": "center", "baseline": "middle"},
      "encoding": {
        "x": {"field": "i", "type": "quantitative", "scale": {"domain": [-0.559, 444.63], "nice": false, "zero": false}, "axis": null},
        "y": {"field": "v", "type": "quantitative", "scale": {"type": "log", "domain": [3.5752, 5.611], "nice": false}, "axis": null},
        "text": {"field": "t"}
      }
    },
    {
      "data": {"name": "mw"},
      "mark": {"type": "text", "font": "Liberation Sans", "fontSize": 17, "color": "#444", "align": "left", "baseline": "middle"},
      "encoding": {
        "x": {"field": "i", "type": "quantitative", "scale": {"domain": [-0.559, 444.63], "nice": false, "zero": false}, "axis": null},
        "y": {"field": "v", "type": "quantitative", "scale": {"type": "log", "domain": [3.5752, 5.611], "nice": false}, "axis": null},
        "text": {"field": "t"}
      }
    }
  ],
  "resolve": {"axis": {"x": "independent", "y": "independent"}}
}
